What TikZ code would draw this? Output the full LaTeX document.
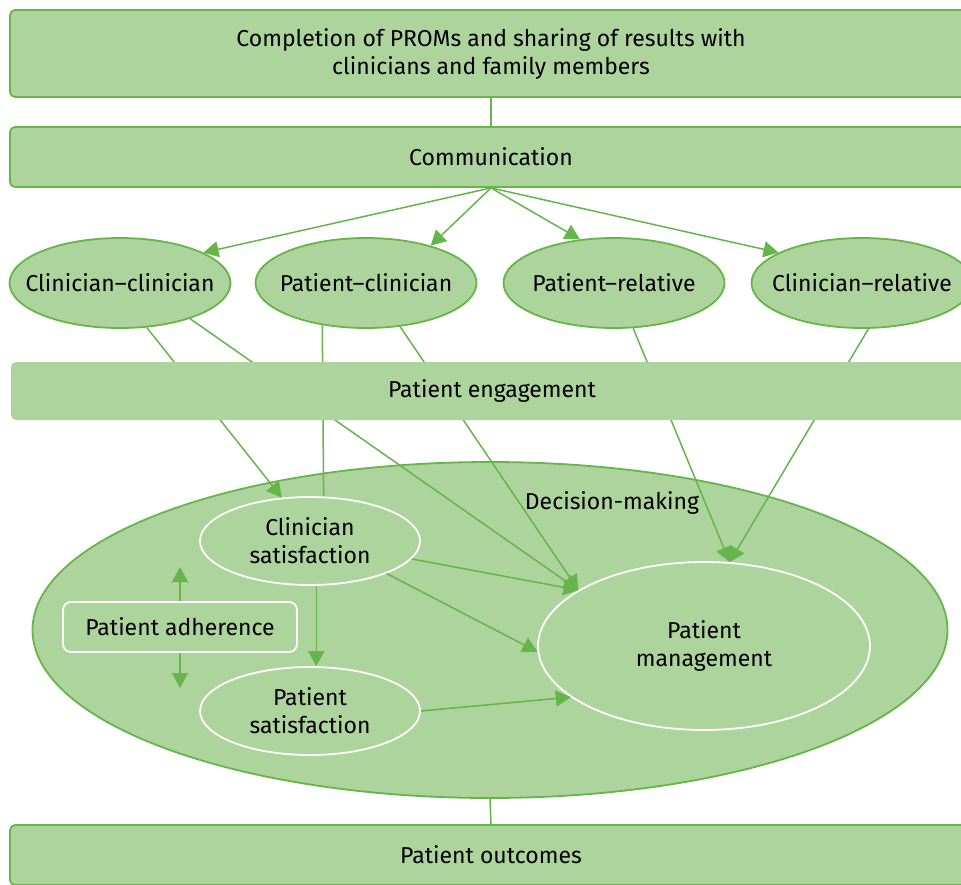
\documentclass[tikz,border=0pt]{standalone}
\usepackage{fontspec}
\setmainfont{Fira Sans}
\usetikzlibrary{arrows.meta,shapes.geometric}
\definecolor{gfill}{HTML}{ADD49D}
\definecolor{gline}{HTML}{66B54A}
\begin{document}
\begin{tikzpicture}[x=1pt,y=-1pt, font=\fontsize{23}{28}\selectfont,
 box/.style={draw=gline, line width=1.8pt, fill=gfill, rounded corners=5pt, minimum width=962pt, align=center, inner sep=0pt},
 oval/.style={ellipse, draw=gline, line width=1.8pt, fill=gfill, minimum width=221pt, minimum height=90pt, inner ysep=0pt, inner xsep=-35pt},
 wov/.style={ellipse, draw=white, line width=1.8pt, fill=gfill, align=center, inner sep=0pt},
 conn/.style={gline, line width=1.5pt},
 arr/.style={conn, -{Triangle[length=15pt,width=16pt]}},
]
\useasboundingbox (0,0) rectangle (961,884);
\clip (0,0) rectangle (961,884);
\node[box, minimum height=87pt] (top) at (491,53.5) {Completion of PROMs and sharing of results with\\clinicians and family members};
\node[box, minimum height=60pt] (comm) at (491,157) {Communication};
\node[oval] (cc) at (120,283) {Clinician–clinician};
\node[oval] (pc) at (366,283) {Patient–clinician};
\node[oval] (pr) at (614,283) {Patient–relative};
\node[oval] (cr) at (862,283) {Clinician–relative};
\node[ellipse, draw=gline, line width=1.8pt, fill=gfill, minimum width=915pt, minimum height=336pt] (dm) at (490,630) {};
\node (dmlabel) at (612,503) {Decision-making};
\node[wov, minimum width=220pt, minimum height=88pt] (cs) at (310,541) {Clinician\\satisfaction};
\node[wov, minimum width=220pt, minimum height=88pt] (ps) at (310,711) {Patient\\satisfaction};
\node[wov, minimum width=332pt, minimum height=168pt] (pm) at (704,646) {Patient\\management};
\node[draw=white, line width=1.8pt, fill=gfill, rounded corners=8pt, minimum width=234pt, minimum height=50pt] (pa) at (180,627) {Patient adherence};
\node[box, minimum height=60pt] (out) at (491,855) {Patient outcomes};
\coordinate (paup) at (180,567);
\coordinate (padn) at (180,688);
% connectors
\draw[conn] (top.south) -- (comm.north);
\draw[conn] (dm.south) -- (out.north);
\draw[arr] (comm.south) -- (cc.20);
\draw[arr] (comm.south) -- (pc.30);
\draw[arr] (comm.south) -- (pr.128);
\draw[arr] (comm.south) -- (cr.160);
\draw[arr] (cc.-59) -- (cs.123);
\draw[arr] (cc.-27) -- (pm.156);
\draw[conn] (pc.-136) -- (cs.73);
\draw[arr] (pc.-52) -- (pm.156);
\draw[arr] (pr.-67) -- (pm.73);
\draw[arr] (cr.-82) -- (pm.73);
\draw[arr] (cs.-10) -- (pm.156);
\draw[arr] (cs.-23) -- (pm.182);
\draw[arr] (ps.0) -- (pm.201);
\draw[arr] (cs.-82) -- (ps.82);
\draw[arr] (pa.north) -- (paup);
\draw[arr] (pa.south) -- (padn);
\node[box, draw=none, minimum height=58pt] (eng) at (492,391) {Patient engagement};
\end{tikzpicture}
\end{document}
